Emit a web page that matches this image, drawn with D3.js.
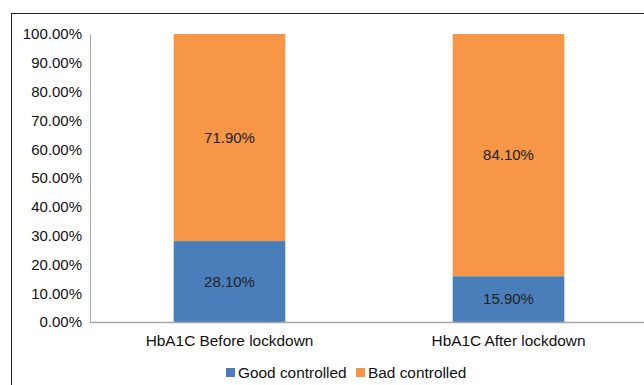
<!DOCTYPE html>
<html>
<head>
<meta charset="utf-8">
<script src="https://cdn.jsdelivr.net/npm/d3@7"></script>
<style>
  body { margin: 0; background: #fff; }
  svg { font-family: "Liberation Sans", Arial, sans-serif; }
</style>
</head>
<body>
<div id="chart"></div>
<script>
// data
const categories = ["HbA1C Before lockdown", "HbA1C After lockdown"];
const goodControlled = [28.10, 15.90];
const badControlled = [71.90, 84.10];
const seriesNames = ["Good controlled", "Bad controlled"];
const yTicks = [0, 10, 20, 30, 40, 50, 60, 70, 80, 90, 100];

const colors = ["#4a7ebb", "#f79646"];

let width = 644, height = 385;

let svg = d3.select("#chart").append("svg")
    .attr("width", width)
    .attr("height", height);

// outer frame (runs off the right and bottom edges)
svg.append("rect")
    .attr("x", 11.5)
    .attr("y", 13.5)
    .attr("width", 800)
    .attr("height", 600)
    .style("fill", "none")
    .style("stroke", "#222")
    .style("stroke-width", 1);

let x = d3.scaleBand()
    .domain(categories)
    .range([90, 648])
    .paddingInner(0.6)
    .paddingOuter(0.3);

let y = d3.scaleLinear()
    .domain([0, 100])
    .range([322, 34]);

let rows = categories.map(function(c, i) {
    return {cat: c, good: goodControlled[i], bad: badControlled[i]};
});

let stacked = d3.stack().keys(["good", "bad"])(rows);

stacked.forEach(function(layer, k) {
    let g = svg.append("g");
    g.selectAll("rect")
        .data(layer)
        .enter().append("rect")
        .attr("x", function(d) { return x(d.data.cat); })
        .attr("width", x.bandwidth())
        .attr("y", function(d) { return y(d[1]); })
        .attr("height", function(d) { return y(d[0]) - y(d[1]); })
        .style("fill", colors[k]);

    g.selectAll("text")
        .data(layer)
        .enter().append("text")
        .attr("x", function(d) { return x(d.data.cat) + x.bandwidth() / 2; })
        .attr("y", function(d) { return (y(d[0]) + y(d[1])) / 2 + 5; })
        .attr("text-anchor", "middle")
        .attr("font-size", 15)
        .style("fill", "#222")
        .text(function(d) { return (d[1] - d[0]).toFixed(2) + "%"; });
});

// y axis
let yAxis = svg.append("g")
    .attr("transform", "translate(90,0)")
    .call(d3.axisLeft(y)
        .tickValues(yTicks)
        .tickSize(0)
        .tickPadding(8)
        .tickFormat(function(d) { return d.toFixed(2) + "%"; }));
yAxis.select(".domain").style("stroke", "#a6a6a6");
yAxis.selectAll("text")
    .attr("font-size", 15)
    .style("fill", "#111")
    .attr("font-family", "Liberation Sans, Arial, sans-serif");

// x axis
let xAxis = svg.append("g")
    .attr("transform", "translate(0,322)")
    .call(d3.axisBottom(x).tickSize(0).tickPadding(13));
xAxis.select(".domain")
    .attr("d", "M90,0.5H648")
    .style("stroke", "#a6a6a6")
    .style("stroke-width", 1.5);
xAxis.selectAll("text")
    .attr("font-size", 15.4)
    .style("fill", "#111")
    .attr("font-family", "Liberation Sans, Arial, sans-serif");

// legend
let legendX = [226, 356];
let legend = svg.selectAll(".legend")
    .data(seriesNames)
    .enter().append("g")
    .attr("class", "legend")
    .attr("transform", function(d, i) { return "translate(" + legendX[i] + ",368)"; });
legend.append("rect")
    .attr("width", 9)
    .attr("height", 9)
    .style("fill", function(d, i) { return colors[i]; });
legend.append("text")
    .attr("x", 12)
    .attr("y", 10)
    .attr("font-size", 15.4)
    .style("fill", "#111")
    .text(function(d) { return d; });
</script>
</body>
</html>
